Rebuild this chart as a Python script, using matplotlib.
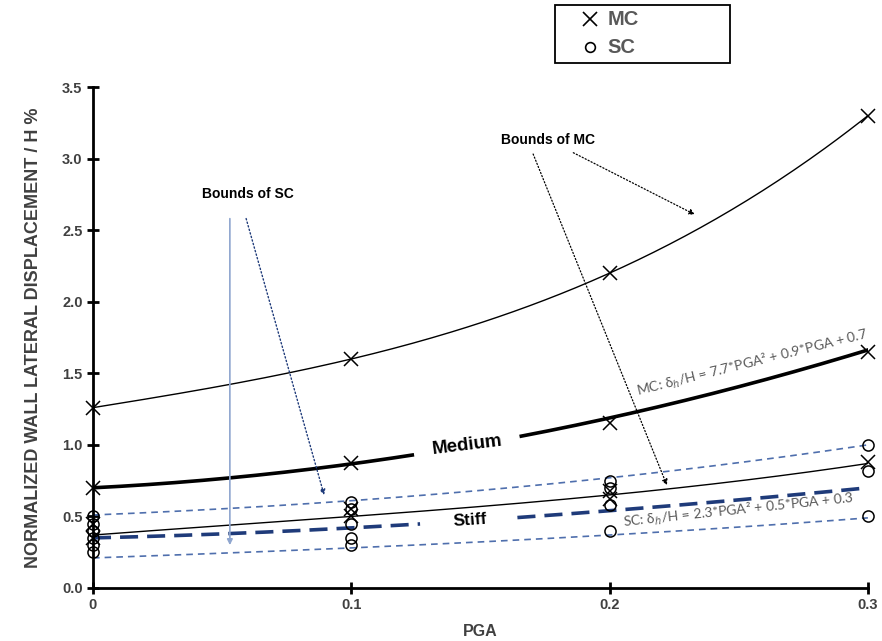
import numpy as np
import matplotlib.pyplot as plt
from matplotlib.lines import Line2D
from matplotlib.patches import Rectangle

plt.rcParams['font.family'] = ['Liberation Sans', 'DejaVu Sans']

pga = [0.0, 0.1, 0.2, 0.3]

mc_x = [0, 0, 0, 0, 0.1, 0.1, 0.1, 0.1, 0.2, 0.2, 0.2, 0.2, 0.3, 0.3, 0.3]
mc_y = [1.26, 0.70, 0.45, 0.35, 1.60, 0.87, 0.55, 0.50, 2.20, 1.15, 0.68, 0.62, 3.30, 1.65, 0.88]

sc_x = [0, 0, 0, 0, 0, 0, 0.1, 0.1, 0.1, 0.1, 0.1, 0.2, 0.2, 0.2, 0.2, 0.3, 0.3, 0.3]
sc_y = [0.50, 0.45, 0.40, 0.35, 0.30, 0.25, 0.60, 0.55, 0.45, 0.35, 0.30, 0.75, 0.70, 0.58, 0.40, 1.00, 0.82, 0.50]

# bound curves
mc_upper = [1.26, 1.60, 2.20, 3.30]
mc_lower = [0.37, 0.50, 0.65, 0.87]
sc_upper = [0.51, 0.61, 0.77, 1.00]
sc_lower = [0.21, 0.28, 0.37, 0.49]

# drawn trendlines
mc_fit = [7.7, 0.9, 0.7]
sc_mid = [0.35, 0.42, 0.54, 0.70]

gray = '#595959'
blue_thin = '#4f6fad'
navy = '#1f3b7a'
thin_font = ['Lato', 'DejaVu Sans']

fig = plt.figure(figsize=(8.82, 6.41), dpi=100)
ax = fig.add_axes([0.1054, 0.0827, 0.8786, 0.7815])

xs = np.linspace(0, 0.3, 200)

def smooth(vals):
    return np.polyval(np.polyfit(pga, vals, 3), xs)

# bounds of MC
ax.plot(xs, smooth(mc_upper), color='black', lw=1.0)
ax.plot(xs, smooth(mc_lower), color='black', lw=1.0)

# bounds of SC
ax.plot(xs, smooth(sc_upper), color=blue_thin, lw=1.2, ls=(0, (4, 3)))
ax.plot(xs, smooth(sc_lower), color=blue_thin, lw=1.2, ls=(0, (4, 3)))

# trendlines with gaps for the labels
mc_curve = np.polyval(mc_fit, xs)
sc_curve = smooth(sc_mid)
gap_m = (xs > 0.124) & (xs < 0.165)
ax.plot(np.where(gap_m, np.nan, xs), mc_curve, color='black', lw=2.6)
gap_s = (xs > 0.128) & (xs < 0.163)
ax.plot(np.where(gap_s, np.nan, xs), sc_curve, color=navy, lw=2.6, ls=(0, (5, 2.5)))

# markers
ax.plot(mc_x, mc_y, ls='none', marker='x', ms=10, mew=1.1, color='black', clip_on=False, zorder=5)
ax.plot(sc_x, sc_y, ls='none', marker='o', ms=8, mew=1.1, mfc='none', mec='black', clip_on=False, zorder=5)

# labels on the trendlines
ax.text(0.145, 1.0, 'Medium', fontsize=13.5, fontweight='bold', ha='center', va='center',
        rotation=7, color='black')
ax.text(0.146, 0.47, 'Stiff', fontsize=12.5, fontweight='bold', ha='center', va='center',
        rotation=4, color='black')
ax.text(0.255, 1.57, r'MC: δ$_h$/H = 7.7*PGA² + 0.9*PGA + 0.7', fontsize=10, color=gray,
        family=thin_font, ha='center', va='center', rotation=14)
ax.text(0.25, 0.54, r'SC: δ$_h$/H = 2.3*PGA² + 0.5*PGA + 0.3', fontsize=10, color=gray,
        family=thin_font, ha='center', va='center', rotation=6)

# bounds annotations
ax.text(0.06, 2.75, 'Bounds of SC', fontsize=10, fontweight='bold', ha='center', va='center')
ax.annotate('', xy=(0.053, 0.28), xytext=(0.053, 2.6),
            arrowprops=dict(arrowstyle='-|>', color='#8fa6cf', lw=1.2, mutation_scale=8))
ax.annotate('', xy=(0.0898, 0.63), xytext=(0.059, 2.6),
            arrowprops=dict(arrowstyle='-|>', color=navy, lw=1.0, ls=':', mutation_scale=8))

ax.text(0.176, 3.13, 'Bounds of MC', fontsize=10, fontweight='bold', ha='center', va='center')
ax.annotate('', xy=(0.234, 2.6), xytext=(0.185, 3.05),
            arrowprops=dict(arrowstyle='-|>', color='black', lw=0.9, ls=':', mutation_scale=8))
ax.annotate('', xy=(0.2226, 0.70), xytext=(0.17, 3.05),
            arrowprops=dict(arrowstyle='-|>', color='black', lw=0.9, ls=':', mutation_scale=8))

ax.set_xlim(0, 0.3)
ax.set_ylim(0, 3.5)
ax.set_xticks([0, 0.1, 0.2, 0.3])
ax.set_xticklabels(['0', '0.1', '0.2', '0.3'])
ax.set_yticks(np.arange(0, 3.51, 0.5))
ax.set_yticklabels(['%.1f' % v for v in np.arange(0, 3.51, 0.5)])
for s in ['top', 'right']:
    ax.spines[s].set_visible(False)
for s in ['left', 'bottom']:
    ax.spines[s].set_linewidth(2.0)
ax.tick_params(direction='inout', length=8, width=2, labelsize=10.5, labelcolor='#404040')
for lbl in ax.get_xticklabels() + ax.get_yticklabels():
    lbl.set_fontweight('bold')
ax.set_xlabel('PGA', fontsize=11.5, fontweight='bold', color='#404040', labelpad=8)
ax.set_ylabel('NORMALIZED WALL LATERAL DISPLACEMENT / H %', fontsize=13, fontweight='bold',
              color='#404040', labelpad=14)

# legend box above the plot
fig.patches.append(Rectangle((0.629, 0.902), 0.199, 0.090, transform=fig.transFigure,
                             fill=False, edgecolor='black', lw=1.3))
fig.lines.append(Line2D([0.669], [0.970], transform=fig.transFigure, ls='none', marker='x',
                        ms=10, mew=1.2, color='black'))
fig.lines.append(Line2D([0.669], [0.926], transform=fig.transFigure, ls='none', marker='o',
                        ms=7, mew=1.2, mfc='none', mec='black'))
fig.text(0.689, 0.970, 'MC', fontsize=14.5, fontweight='bold', color=gray, va='center')
fig.text(0.689, 0.926, 'SC', fontsize=14.5, fontweight='bold', color=gray, va='center')

fig.savefig('out.png', dpi=100)
